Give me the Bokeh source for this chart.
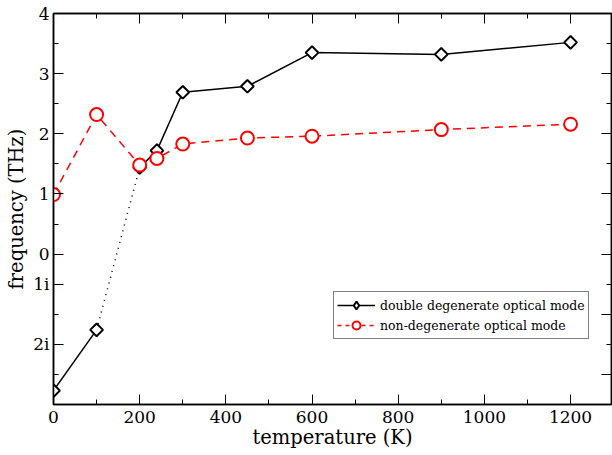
import math
from bokeh.plotting import figure
from bokeh.models import FixedTicker, LinearAxis, Range1d, Legend, LegendItem
from bokeh.embed import file_html
from bokeh.resources import INLINE

# Data (imaginary frequencies plotted below zero on the chart's own scale)
temp_dd = [0, 100, 200, 240, 300, 450, 600, 900, 1200]
freq_dd = [-2.27, -1.26, 1.44, 1.72, 2.69, 2.79, 3.35, 3.32, 3.52]
temp_nd = [0, 100, 200, 240, 300, 450, 600, 900, 1200]
freq_nd = [0.99, 2.32, 1.48, 1.59, 1.83, 1.93, 1.96, 2.07, 2.16]

y_major = [4, 3, 2, 1, 0, -0.5, -1.5]
y_labels = {4: "4", 3: "3", 2: "2", 1: "1", 0: "0", -0.5: "1i", -1.5: "2i"}
y_minor = [3.5, 2.5, 1.5, 0.5, -1, -2]
x_major = [0, 200, 400, 600, 800, 1000, 1200]
x_minor = [100, 300, 500, 700, 900, 1100]

FONT = "DejaVu Serif"

p = figure(width=612, height=455, output_backend="svg", toolbar_location=None,
           x_range=Range1d(0, 1295), y_range=Range1d(-2.5, 4),
           min_border_left=53, min_border_right=1, min_border_top=13, min_border_bottom=51)
p.background_fill_color = "white"
p.border_fill_color = "white"
p.grid.visible = False
p.outline_line_color = "black"
p.outline_line_width = 1.5

# main lines
p.line(temp_dd[:2], freq_dd[:2], line_color="black", line_width=1.5)
p.line(temp_dd[1:3], freq_dd[1:3], line_color="black", line_width=1.5, line_dash="1 5")
p.line(temp_dd[2:], freq_dd[2:], line_color="black", line_width=1.5)
p.line(temp_nd, freq_nd, line_color="#ff0000", line_width=1.5, line_dash="8 6")
p.scatter(temp_dd, freq_dd, marker="square", size=9, angle=math.pi / 4, line_color="black",
          line_width=2, fill_color="white")
p.scatter(temp_nd, freq_nd, marker="circle", size=13, line_color="#ff0000",
          line_width=2, fill_color="white")

# legend proxies
l1 = p.line([-100, -90], [0, 0], line_color="black", line_width=1.5)
m1 = p.scatter([-100], [0], marker="diamond", size=12, line_color="black",
               line_width=2, fill_color="white")
l2 = p.line([-100, -90], [0, 0], line_color="#ff0000", line_width=1.5, line_dash="4 4")
m2 = p.scatter([-100], [0], marker="circle", size=11, line_color="#ff0000", line_width=2,
               fill_color="white")

legend = Legend(items=[LegendItem(label="double degenerate optical mode", renderers=[l1, m1]),
                       LegendItem(label="non-degenerate optical mode", renderers=[l2, m2])],
                location=(280, 65))
legend.label_text_font = FONT
legend.label_text_font_size = "12.5px"
legend.label_text_color = "black"
legend.border_line_color = "black"
legend.border_line_width = 1
legend.padding = 3
legend.spacing = 0
legend.glyph_width = 38
legend.glyph_height = 20
legend.label_height = 20
legend.label_standoff = 5
legend.margin = 0
p.add_layout(legend, "center")

def style_axis(ax):
    ax.axis_line_color = "black"
    ax.axis_line_width = 1.5
    ax.major_tick_in = 10
    ax.major_tick_out = 0
    ax.minor_tick_in = 5
    ax.minor_tick_out = 0
    ax.major_tick_line_color = "black"
    ax.minor_tick_line_color = "black"
    ax.major_label_text_font = FONT
    ax.major_label_text_font_size = "17px"
    ax.major_label_text_color = "black"
    ax.axis_label_text_font = FONT
    ax.axis_label_text_font_size = "19.5px"
    ax.axis_label_text_font_style = "normal"
    ax.axis_label_text_color = "black"

xa = p.xaxis[0]
xa.ticker = FixedTicker(ticks=x_major, minor_ticks=x_minor)
xa.axis_label = "temperature (K)"
style_axis(xa)
xa.major_label_standoff = 6
xa.axis_label_standoff = 0

ya = p.yaxis[0]
ya.ticker = FixedTicker(ticks=y_major, minor_ticks=y_minor)
ya.major_label_overrides = y_labels
ya.axis_label = "frequency (THz)"
style_axis(ya)
ya.major_label_standoff = 4
ya.axis_label_standoff = 2

top = LinearAxis(ticker=FixedTicker(ticks=x_major, minor_ticks=x_minor))
style_axis(top)
top.major_label_text_font_size = "0px"
top.major_label_standoff = 0
top.major_label_text_alpha = 0
p.add_layout(top, "above")

right = LinearAxis(ticker=FixedTicker(ticks=[4, 3, 2, 1, 0, -1, -2],
                                      minor_ticks=[3.5, 2.5, 1.5, 0.5, -0.5, -1.5]))
style_axis(right)
right.major_label_text_font_size = "0px"
right.major_label_standoff = 0
right.major_label_text_alpha = 0
p.add_layout(right, "right")

open("out.html", "w").write(file_html(p, INLINE))
